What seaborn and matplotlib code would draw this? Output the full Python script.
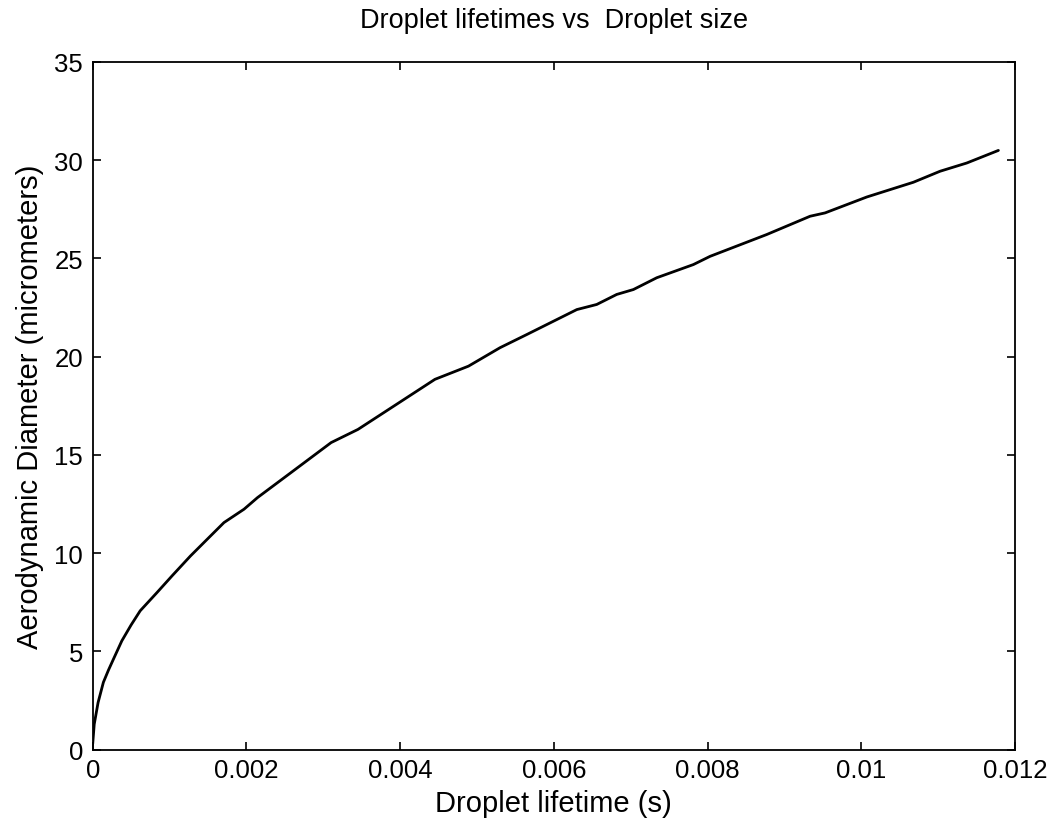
import matplotlib
matplotlib.use("Agg")
import matplotlib.pyplot as plt
import seaborn as sns
import pandas as pd

# Data (droplet lifetime in s, aerodynamic diameter in micrometers)
lifetime_s = [0.0, 0.00002, 0.00007, 0.000139, 0.000205, 0.000270, 0.000379, 0.00050,
              0.000618, 0.000837, 0.001033, 0.001272, 0.001500, 0.001708, 0.001969,
              0.002144, 0.002579, 0.003102, 0.003451, 0.004017, 0.004453, 0.004889,
              0.005300, 0.005648, 0.006299, 0.006558, 0.006818, 0.007035, 0.007339,
              0.007815, 0.008033, 0.008770, 0.009334, 0.009529, 0.010072, 0.010678,
              0.011025, 0.011373, 0.011784]
diameter_um = [0.3, 1.3, 2.4, 3.43, 4.05, 4.61, 5.54, 6.35,
               7.07, 8.0, 8.85, 9.86, 10.75, 11.56, 12.24,
               12.83, 14.1, 15.63, 16.3, 17.74, 18.85, 19.52,
               20.46, 21.13, 22.4, 22.66, 23.17, 23.42, 24.02,
               24.69, 25.11, 26.22, 27.15, 27.32, 28.13, 28.88,
               29.44, 29.86, 30.5]

x_ticks = [0, 0.002, 0.004, 0.006, 0.008, 0.01, 0.012]
x_tick_labels = ["0", "0.002", "0.004", "0.006", "0.008", "0.01", "0.012"]
y_ticks = [0, 5, 10, 15, 20, 25, 30, 35]

title = "Droplet lifetimes vs  Droplet size"
x_label = "Droplet lifetime (s)"
y_label = "Aerodynamic Diameter (micrometers)"

df = pd.DataFrame({"t": lifetime_s, "d": diameter_um})

sns.set_theme(style="white")
plt.rcParams["font.family"] = ["Liberation Sans", "DejaVu Sans"]

fig = plt.figure(figsize=(10.61, 8.20), dpi=100)
W, H = 1061, 820
left, right, top, bottom = 92.7, 1015, 63, 750.7
ax = fig.add_axes([left / W, 1 - bottom / H, (right - left) / W, (bottom - top) / H])

sns.lineplot(data=df, x="t", y="d", ax=ax, color="black", linewidth=2.0,
             estimator=None, sort=False)

ax.set_xlim(0, 0.012)
ax.set_ylim(0, 35)
ax.set_xticks(x_ticks)
ax.set_xticklabels(x_tick_labels)
ax.set_yticks(y_ticks)

for s in ax.spines.values():
    s.set_visible(True)
    s.set_color("black")
    s.set_linewidth(1.3)

ax.tick_params(axis="both", which="both", direction="in", length=6, width=1.2,
               top=True, right=True, bottom=True, left=True,
               labelsize=18.5, colors="black")
ax.tick_params(axis="x", pad=6)
ax.tick_params(axis="y", pad=7)

ax.set_xlabel(x_label, fontsize=21, color="black")
ax.set_ylabel(y_label, fontsize=21, color="black")
ax.xaxis.set_label_coords(0.5, -0.057)
ax.yaxis.set_label_coords(-0.053, 0.5)
ax.set_title(title, fontsize=19.5, color="black", pad=25)

fig.savefig("out.png", dpi=100)
